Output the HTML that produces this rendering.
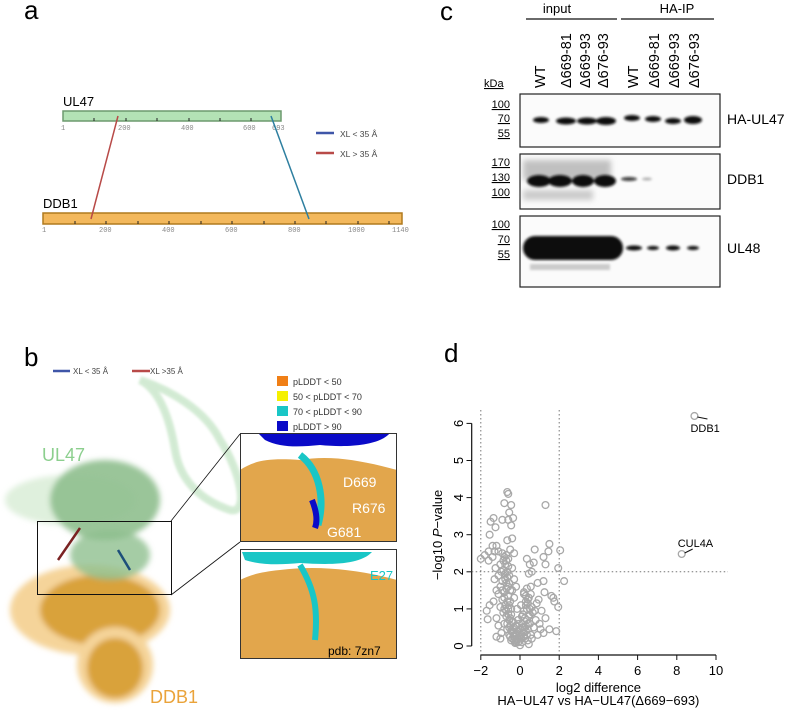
<!DOCTYPE html>
<html><head><meta charset="utf-8"><style>
body{margin:0;background:#fff;}
svg{display:block;font-family:"Liberation Sans",Arial,sans-serif;}
</style></head><body>
<svg width="799" height="713" viewBox="0 0 799 713" xmlns="http://www.w3.org/2000/svg">
<defs>
<filter id="bl" x="-30%" y="-80%" width="160%" height="260%"><feGaussianBlur stdDeviation="1.2"/></filter>
<filter id="bl2" x="-30%" y="-30%" width="160%" height="160%"><feGaussianBlur stdDeviation="3"/></filter>
</defs>

<!-- PANEL A -->
<g>
<text x="24" y="19" font-size="26">a</text>
<text x="63" y="106" font-size="13">UL47</text>
<rect x="63" y="111" width="218" height="10" fill="#b3e2b5" stroke="#6d9a6f" stroke-width="1.5"/>
<g stroke="#222" stroke-width="1">
<line x1="94" y1="118" x2="94" y2="121"/><line x1="126" y1="118" x2="126" y2="121"/><line x1="157" y1="118" x2="157" y2="121"/><line x1="189" y1="118" x2="189" y2="121"/><line x1="220" y1="118" x2="220" y2="121"/><line x1="251" y1="118" x2="251" y2="121"/></g>
<g font-size="7" fill="#888" font-family="Liberation Mono,monospace">
<text x="61" y="130">1</text><text x="118" y="130">200</text><text x="181" y="130">400</text><text x="243" y="130">600</text><text x="272" y="130">693</text></g>
<text x="43" y="208" font-size="13">DDB1</text>
<rect x="43" y="213" width="359" height="11" fill="#f3b85c" stroke="#b07a1e" stroke-width="1.5"/>
<g stroke="#222" stroke-width="1">
<line x1="75" y1="221" x2="75" y2="224"/><line x1="106" y1="221" x2="106" y2="224"/><line x1="138" y1="221" x2="138" y2="224"/><line x1="169" y1="221" x2="169" y2="224"/><line x1="201" y1="221" x2="201" y2="224"/><line x1="232" y1="221" x2="232" y2="224"/><line x1="264" y1="221" x2="264" y2="224"/><line x1="295" y1="221" x2="295" y2="224"/><line x1="326" y1="221" x2="326" y2="224"/><line x1="358" y1="221" x2="358" y2="224"/><line x1="389" y1="221" x2="389" y2="224"/></g>
<g font-size="7" fill="#888" font-family="Liberation Mono,monospace">
<text x="42" y="232">1</text><text x="99" y="232">200</text><text x="162" y="232">400</text><text x="225" y="232">600</text><text x="288" y="232">800</text><text x="348" y="232">1000</text><text x="392" y="232">1140</text></g>
<line x1="118" y1="116" x2="91" y2="219" stroke="#b84a48" stroke-width="1.5"/>
<line x1="271" y1="116" x2="309" y2="219" stroke="#2e7fa0" stroke-width="1.5"/>
<line x1="316" y1="133" x2="334" y2="133" stroke="#3f56a8" stroke-width="2.5"/>
<text x="340" y="137" font-size="8.5" fill="#444">XL &lt; 35 Å</text>
<line x1="316" y1="153" x2="334" y2="153" stroke="#b84a48" stroke-width="2.5"/>
<text x="340" y="157" font-size="8.5" fill="#444">XL &gt; 35 Å</text>
</g>

<!-- PANEL B -->
<g>
<text x="24" y="366" font-size="26">b</text>
<line x1="53" y1="371" x2="70" y2="371" stroke="#3f56a8" stroke-width="2.5"/>
<text x="73" y="374" font-size="8" fill="#444">XL &lt; 35 Å</text>
<line x1="132" y1="371" x2="150" y2="371" stroke="#b84a48" stroke-width="2.5"/>
<text x="150" y="374" font-size="8" fill="#444">XL &gt;35 Å</text>
<g>
<path d="M140 380 C160 390 170 420 175 450 C180 480 200 500 230 510 C250 515 240 470 220 440 C205 410 170 390 140 380Z" fill="none" stroke="#c8e6c9" stroke-width="8" opacity="0.8" filter="url(#bl)"/>
<g filter="url(#bl2)">
<ellipse cx="70" cy="500" rx="65" ry="25" fill="#d7ecd5" opacity="0.8"/>
<ellipse cx="105" cy="500" rx="55" ry="40" fill="#8fbf8e" opacity="0.9"/>
<ellipse cx="90" cy="610" rx="80" ry="45" fill="#f5d49a"/>
<ellipse cx="100" cy="610" rx="60" ry="35" fill="#d9a23a"/>
<ellipse cx="115" cy="665" rx="38" ry="38" fill="#f5d49a"/>
<ellipse cx="115" cy="668" rx="28" ry="30" fill="#d9a23a"/>
<ellipse cx="110" cy="555" rx="40" ry="25" fill="#8fbf8e" opacity="0.8"/>
</g>
<line x1="80" y1="528" x2="58" y2="560" stroke="#7a2222" stroke-width="2.5"/>
<line x1="118" y1="550" x2="130" y2="570" stroke="#1d4f7a" stroke-width="2.5"/>
</g>
<text x="42" y="461" font-size="18" fill="#8ccf8e">UL47</text>
<text x="150" y="703" font-size="18" fill="#eaa33a">DDB1</text>
<rect x="37.5" y="521.5" width="134" height="73" fill="none" stroke="#111" stroke-width="1"/>
<line x1="171" y1="521" x2="240" y2="434" stroke="#111" stroke-width="0.8"/>
<line x1="171" y1="595" x2="240" y2="542" stroke="#111" stroke-width="0.8"/>
<g font-size="9" fill="#333">
<rect x="277" y="376" width="11" height="10" fill="#f07f16"/><text x="293" y="385">pLDDT &lt; 50</text>
<rect x="277" y="391" width="11" height="10" fill="#f5f000"/><text x="293" y="400">50 &lt; pLDDT &lt; 70</text>
<rect x="277" y="406" width="11" height="10" fill="#19c6c6"/><text x="293" y="415">70 &lt; pLDDT &lt; 90</text>
<rect x="277" y="421" width="11" height="10" fill="#0a0ac8"/><text x="293" y="430">pLDDT &gt; 90</text>
</g>
<g>
<rect x="240" y="433" width="157" height="109" fill="#e2a64c"/>
<path d="M240 433 H397 V470 C360 460 330 455 300 460 C270 458 255 460 240 470Z" fill="#fff"/>
<path d="M258 433 H390 C380 445 350 448 320 445 C300 447 280 448 265 440Z" fill="#0a0ac8"/>
<path d="M300 455 C320 470 325 500 318 525" stroke="#19c6c6" stroke-width="7" fill="none"/>
<path d="M312 500 C316 510 318 520 315 528" stroke="#0a0ac8" stroke-width="6" fill="none"/>
<text x="343" y="487" font-size="14" fill="#fff">D669</text>
<text x="352" y="513" font-size="14" fill="#fff">R676</text>
<text x="327" y="537" font-size="14" fill="#fff">G681</text>
<rect x="240.5" y="433.5" width="156" height="108" fill="none" stroke="#333"/>
</g>
<g>
<rect x="240" y="549" width="157" height="110" fill="#e2a64c"/>
<path d="M240 549 H397 V580 C360 570 320 565 280 570 C260 572 250 575 240 580Z" fill="#fff"/>
<path d="M242 552 H372 C360 565 330 565 300 563 C280 565 260 565 245 560Z" fill="#19c6c6"/>
<path d="M300 565 C315 590 318 610 315 640" stroke="#19c6c6" stroke-width="6" fill="none"/>
<text x="370" y="580" font-size="13" fill="#19c6c6">E27</text>
<text x="328" y="655" font-size="12" fill="#000">pdb: 7zn7</text>
<rect x="240.5" y="549.5" width="156" height="109" fill="none" stroke="#333"/>
</g>
</g>

<!-- PANEL C -->
<g>
<text x="440" y="20" font-size="26">c</text>
<text x="557" y="13" font-size="13" text-anchor="middle">input</text>
<line x1="526" y1="19" x2="617" y2="19" stroke="#111" stroke-width="1.2"/>
<text x="677" y="13" font-size="13" text-anchor="middle">HA-IP</text>
<line x1="621" y1="19" x2="714" y2="19" stroke="#111" stroke-width="1.2"/>
<g font-size="14.5">
<text transform="translate(545,88) rotate(-90)">WT</text>
<text transform="translate(571,88) rotate(-90)">Δ669-81</text>
<text transform="translate(590,88) rotate(-90)">Δ669-93</text>
<text transform="translate(608,88) rotate(-90)">Δ676-93</text>
<text transform="translate(638,88) rotate(-90)">WT</text>
<text transform="translate(659,88) rotate(-90)">Δ669-81</text>
<text transform="translate(679,88) rotate(-90)">Δ669-93</text>
<text transform="translate(699,88) rotate(-90)">Δ676-93</text>
</g>
<text x="484" y="87" font-size="11" text-decoration="underline">kDa</text>
<g font-size="11" text-anchor="end" text-decoration="underline">
<text x="510" y="108">100</text><text x="510" y="122">70</text><text x="510" y="137">55</text>
<text x="510" y="166">170</text><text x="510" y="181">130</text><text x="510" y="196">100</text>
<text x="510" y="228">100</text><text x="510" y="243">70</text><text x="510" y="258">55</text>
</g>
<g>
<rect x="520" y="94" width="200" height="53" fill="#fbfbfb" stroke="#222" stroke-width="1.2"/>
<g fill="#111" filter="url(#bl)">
<ellipse cx="541" cy="120" rx="8" ry="3"/><ellipse cx="566" cy="121" rx="10" ry="3.5"/><ellipse cx="587" cy="121" rx="10" ry="3.5"/><ellipse cx="606" cy="121" rx="10" ry="4"/>
<ellipse cx="632" cy="118" rx="8" ry="3"/><ellipse cx="653" cy="119" rx="8" ry="3"/><ellipse cx="673" cy="121" rx="8" ry="3"/><ellipse cx="693" cy="120" rx="9" ry="4"/>
</g></g>
<g>
<rect x="520" y="154" width="200" height="55" fill="#fbfbfb" stroke="#222" stroke-width="1.2"/>
<g filter="url(#bl2)"><rect x="523" y="160" width="88" height="20" fill="#999" opacity="0.6"/><rect x="523" y="190" width="70" height="10" fill="#aaa" opacity="0.6"/></g>
<g fill="#111" filter="url(#bl)">
<ellipse cx="539" cy="181" rx="12" ry="6"/><ellipse cx="560" cy="181" rx="12" ry="6"/><ellipse cx="583" cy="181" rx="11" ry="6"/><ellipse cx="605" cy="181" rx="11" ry="6"/>
<ellipse cx="629" cy="179" rx="8" ry="2" opacity="0.8"/><ellipse cx="647" cy="179" rx="5" ry="1.5" opacity="0.3"/>
</g></g>
<g>
<rect x="520" y="216" width="200" height="71" fill="#fbfbfb" stroke="#222" stroke-width="1.2"/>
<g filter="url(#bl)">
<rect x="523" y="236" width="100" height="24" rx="12" fill="#0a0a0a"/>
<ellipse cx="634" cy="248" rx="8" ry="2.5" fill="#111"/><ellipse cx="653" cy="248" rx="6" ry="2" fill="#111"/><ellipse cx="673" cy="248" rx="7" ry="2.5" fill="#111"/><ellipse cx="693" cy="248" rx="6" ry="2" fill="#111"/>
<rect x="530" y="264" width="80" height="6" fill="#aaa" opacity="0.6"/>
</g></g>
<g font-size="14">
<text x="727" y="124">HA-UL47</text><text x="727" y="184">DDB1</text><text x="727" y="253">UL48</text>
</g>
</g>

<!-- PANEL D -->
<g id="pd">
<text x="444" y="362" font-size="26">d</text>
</g>
</svg>
<script>
const xs=[8.9,8.25,1.3,-0.65,-0.6,-0.8,-0.45,-0.55,-0.35,-1.35,-1.5,-0.9,-0.6,-1.25,-0.45,-1.55,-0.4,-0.65,-2,-1.8,-1.6,-1.4,-1.2,-1.1,1.5,1.45,2.05,0.75,1.2,0.35,0.5,0.7,1.3,1.95,0.45,0.6,2.25,1.2,0.9,0.55,1.25,1.6,1.7,1.75,1.95,0.95,1.1,-1.7,-1.55,-1.65,-1.2,-1.0,1.5,1.85,1.05,
-0.9,-0.8,-0.7,-1.0,-0.6,-0.85,-0.75,-1.1,-0.65,-0.9,-0.55,-1.0,-0.7,-0.8,-1.1,-0.6,-0.9,-0.5,-0.75,-1.0,-0.6,-0.85,-0.45,-0.7,-1.2,-0.55,-0.35,-0.8,-0.5,-0.3,-0.65,-0.4,-0.2,-0.55,-0.3,-0.15,-0.45,-0.1,-0.25,0,-1.25,-1.3,-1.2,-1.35,-1.1,-0.95,-1.4,-1.6,-1.3,-0.5,-0.3,-0.4,-0.2,-0.3,-0.15,-0.1,
0.1,0.2,0.3,0.15,0.4,0.25,0.5,0.35,0.6,0.3,0.45,0.2,0.35,0.7,0.8,0.9,0.6,1.0,0.05,0.1,0.15,0.75,0.55,0.05,0.0,1.2,0.4,0.85,1.3,0.45,
-0.75,-0.65,-0.55,-0.7,-0.6,-0.5,-0.8,-0.65,-0.55,-0.45,-0.7,-0.6,-0.5,-0.4,-0.65,-0.55,-0.45,-0.35,-0.5,-0.4,-0.3,-0.2,-0.35,-0.25,-0.15,-0.05,-0.2,-0.1,0.05,0.15,0.25,0.35,0.1,0.2,0.3,0.4,0.2,0.3,0.4,0.5,0.3,0.4,0.5,0.25,0.35,-0.85,-0.95,-0.75,-0.7,-0.9,-0.6,-0.8,0.55,0.65,0.45,-0.05,0.0,0.1,-0.3,-0.4];
const ys=[6.2,2.48,3.8,4.15,4.1,3.85,3.8,3.6,3.45,3.45,3.35,3.4,3.4,3.2,3.25,3.0,2.9,2.85,2.35,2.45,2.55,2.7,2.7,2.55,2.75,2.55,2.58,2.6,2.4,2.35,2.2,2.25,2.2,2.1,1.95,2.0,1.75,1.75,1.7,1.6,1.45,1.35,1.3,1.2,1.05,1.25,0.95,0.95,1.1,0.72,0.25,0.2,0.45,0.4,0.45,
2.5,2.4,2.3,2.2,2.15,2.05,1.95,1.9,1.85,1.75,1.7,1.6,1.55,1.45,1.4,1.35,1.25,1.2,1.1,1.05,1.0,0.9,0.85,0.8,0.75,0.7,0.65,0.6,0.55,0.5,0.45,0.4,0.35,0.3,0.25,0.2,0.15,0.1,0.08,0.02,2.1,1.8,1.5,1.2,0.55,0.35,2.4,2.3,2.55,2.6,2.5,2.1,1.6,1.3,1.0,0.7,
0.1,0.25,0.4,0.5,0.6,0.75,0.85,1.0,1.05,1.2,1.3,1.45,1.55,0.5,0.7,0.3,0.2,0.6,0.3,0.6,0.85,0.95,1.4,1.1,0.45,0.35,0.15,1.15,0.75,0.05,
2.2,2.0,1.9,1.7,1.6,1.5,1.3,1.2,1.1,1.0,0.95,0.85,0.75,0.65,0.6,0.5,0.4,0.35,0.25,0.2,0.15,0.1,0.45,0.3,0.2,0.12,0.55,0.4,0.2,0.35,0.5,0.7,0.8,0.95,1.1,1.25,1.4,1.35,1.15,1.0,0.55,0.45,0.6,0.2,0.3,2.3,2.0,1.8,2.45,1.5,2.35,1.0,0.3,0.9,0.8,0.6,0.25,0.5,1.8,1.5];
const xTicks=[-2,0,2,4,6,8,10];
const yTicks=[0,1,2,3,4,5,6];
const labels=[["DDB1",8.9,6.2],["CUL4A",8.25,2.48]];
const NS="http://www.w3.org/2000/svg";
const g=document.getElementById('pd');
const X=v=>520+v*19.6, Y=v=>646-v*37.1;
function el(t,a){const e=document.createElementNS(NS,t);for(const k in a)e.setAttribute(k,a[k]);g.appendChild(e);return e;}
let e;
e=el('line',{x1:X(-2),y1:655,x2:X(10),y2:655,stroke:'#111','stroke-width':1.2});


e=el('line',{x1:471.7,y1:Y(0),x2:471.7,y2:Y(6),stroke:'#111','stroke-width':1.2});


xTicks.forEach(t=>{el('line',{x1:X(t),y1:655,x2:X(t),y2:660,stroke:'#111'});
 e=el('text',{x:X(t),y:675,'font-size':13,'text-anchor':'middle'});e.textContent=String(t).replace('-','−');
 
 });
yTicks.forEach(t=>{el('line',{x1:466.5,y1:Y(t),x2:471.7,y2:Y(t),stroke:'#111'});
 e=el('text',{transform:`translate(463,${Y(t)}) rotate(-90)`,'font-size':13,'text-anchor':'middle'});e.textContent=t;
 
 });
el('line',{x1:X(-2),y1:410,x2:X(-2),y2:655,stroke:'#777','stroke-dasharray':'1.5 2.5'});
el('line',{x1:X(2),y1:410,x2:X(2),y2:655,stroke:'#777','stroke-dasharray':'1.5 2.5'});
el('line',{x1:471.7,y1:Y(2),x2:728,y2:Y(2),stroke:'#777','stroke-dasharray':'1.5 2.5'});
xs.forEach((x,i)=>{e=el('circle',{cx:X(x),cy:Y(ys[i]),r:3.4,fill:'none',stroke:'#a8a8a8','stroke-width':1.3});
 
 });
labels.forEach(l=>{const px=X(l[1]),py=Y(l[2]);
 if(l[0]==='DDB1'){el('line',{x1:px+3,y1:py+1,x2:px+13,y2:py+3,stroke:'#111'});e=el('text',{x:px-4,y:py+16,'font-size':11});}
 else{el('line',{x1:px+3,y1:py-1,x2:px+11,y2:py-5,stroke:'#111'});e=el('text',{x:px-4,y:py-7,'font-size':11});}
 e.textContent=l[0];
 
 });
e=el('text',{x:X(4),y:692,'font-size':13,'text-anchor':'middle'});e.textContent='log2 difference';


e=el('text',{x:X(4),y:705,'font-size':13,'text-anchor':'middle'});e.textContent='HA−UL47 vs HA−UL47(Δ669−693)';


e=el('text',{transform:'translate(442,535) rotate(-90)','font-size':13,'text-anchor':'middle'});
e.innerHTML='−log10 <tspan font-style="italic">P</tspan>−value';


</script>
</body></html>
